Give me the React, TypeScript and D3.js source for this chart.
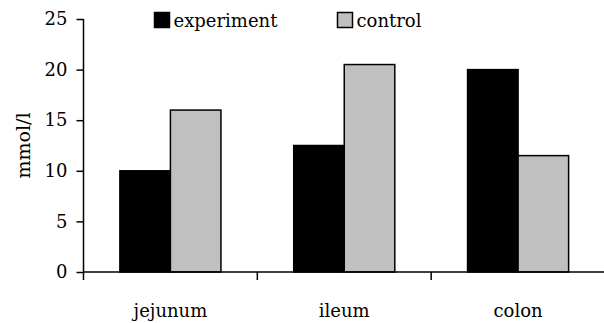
import * as d3 from "d3";
import { useEffect, useRef } from "react";

const categories = ["jejunum", "ileum", "colon"];
const seriesNames = ["experiment", "control"];
const experiment = [10, 12.5, 20];
const control = [16, 20.5, 11.5];
const yTicks = [0, 5, 10, 15, 20, 25];

const colors = ["#000000", "#c0c0c0"];
const font = "'DejaVu Serif', serif";

const App = () => {
  const chartRef = useRef<SVGSVGElement | null>(null);

  const width = 604;
  const height = 323;
  // отступы
  const margin = { top: 19, bottom: 51, left: 83.5, right: -1 };

  useEffect(() => {
    const svg = d3.select(chartRef.current);
    svg.selectAll("*").remove();

    const data = categories.map((c, i) => ({
      label: c,
      values: [experiment[i], control[i]],
    }));

    const scaleX = d3
      .scaleBand()
      .domain(categories)
      .range([margin.left, width - margin.right]);

    const scaleSeries = d3
      .scaleBand()
      .domain(seriesNames)
      .range([0, scaleX.bandwidth()])
      .paddingOuter(0.72);

    const scaleY = d3
      .scaleLinear()
      .domain([0, 25])
      .range([height - margin.bottom, margin.top]);

    // столбцы
    const groups = svg
      .selectAll(".group")
      .data(data)
      .enter()
      .append("g")
      .attr("transform", (d) => `translate(${scaleX(d.label)}, 0)`);

    groups
      .selectAll("rect")
      .data((d) => d.values.map((v, k) => ({ name: seriesNames[k], v, k })))
      .enter()
      .append("rect")
      .attr("x", (d) => scaleSeries(d.name)!)
      .attr("y", (d) => scaleY(d.v))
      .attr("width", scaleSeries.bandwidth())
      .attr("height", (d) => scaleY(0) - scaleY(d.v))
      .style("fill", (d) => colors[d.k])
      .style("stroke", "#000")
      .style("stroke-width", 1.5);

    // ось Y
    const yAxis = d3
      .axisLeft(scaleY)
      .tickValues(yTicks)
      .tickSize(7)
      .tickPadding(9)
      .tickFormat((d) => String(d));
    const gy = svg
      .append("g")
      .attr("transform", `translate(${margin.left}, 0)`)
      .call(yAxis);
    gy.select(".domain").remove();
    gy.append("line")
      .attr("x1", 0)
      .attr("x2", 0)
      .attr("y1", scaleY(25))
      .attr("y2", scaleY(0) + 8)
      .attr("stroke", "#000")
      .attr("stroke-width", 1.5);
    gy.selectAll(".tick line").attr("stroke-width", 1.5);
    gy.selectAll("text")
      .style("font-family", font)
      .style("font-size", "18px")
      .attr("fill", "#000");

    // ось X
    const gx = svg
      .append("g")
      .attr("transform", `translate(0, ${scaleY(0)})`);
    gx.append("line")
      .attr("x1", margin.left)
      .attr("x2", width - margin.right)
      .attr("stroke", "#000")
      .attr("stroke-width", 1.5);
    gx.selectAll(".xtick")
      .data(categories.slice(1))
      .enter()
      .append("line")
      .attr("x1", (d) => scaleX(d)!)
      .attr("x2", (d) => scaleX(d)!)
      .attr("y1", 0)
      .attr("y2", 8)
      .attr("stroke", "#000")
      .attr("stroke-width", 1.5);
    gx.selectAll(".xlabel")
      .data(categories)
      .enter()
      .append("text")
      .attr("x", (d) => scaleX(d)! + scaleX.bandwidth() / 2)
      .attr("y", 45)
      .attr("text-anchor", "middle")
      .style("font-family", font)
      .style("font-size", "18px")
      .text((d) => d);

    // подпись оси Y
    svg
      .append("text")
      .attr("transform", `translate(30, ${(scaleY(0) + scaleY(25)) / 2}) rotate(-90)`)
      .attr("text-anchor", "middle")
      .style("font-family", font)
      .style("font-size", "19px")
      .text("mmol/l");

    // легенда
    const legendX = [154.5, 337.5];
    const legend = svg
      .selectAll(".legend")
      .data(seriesNames)
      .enter()
      .append("g")
      .attr("transform", (d, i) => `translate(${legendX[i]}, 12.5)`);
    legend
      .append("rect")
      .attr("width", 15)
      .attr("height", 15)
      .style("fill", (d, i) => colors[i])
      .style("stroke", "#000")
      .style("stroke-width", 1.5);
    legend
      .append("text")
      .attr("x", 19)
      .attr("y", 14.5)
      .style("font-family", font)
      .style("font-size", "18px")
      .text((d) => d);
  }, []);

  return (
    <svg
      ref={chartRef}
      width={width}
      height={height}
      style={{ position: "absolute", left: 0, top: 0, background: "#fff" }}
    ></svg>
  );
};

export default App;
